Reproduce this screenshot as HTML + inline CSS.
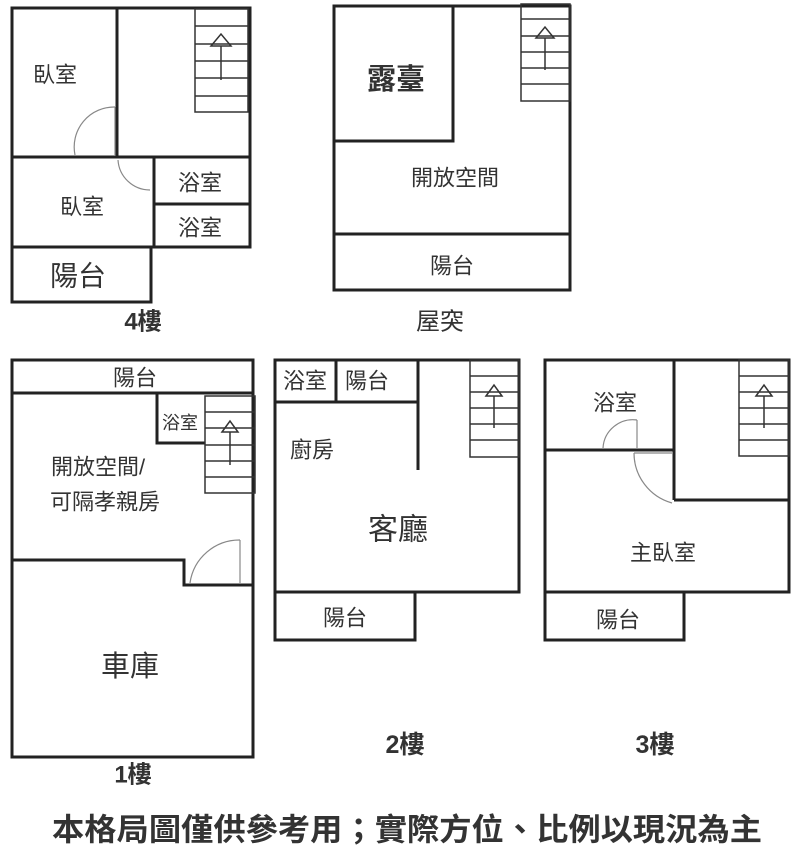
<!DOCTYPE html>
<html><head><meta charset="utf-8"><style>
html,body{margin:0;padding:0;background:#fff;}
svg{display:block}
text{font-family:"Liberation Sans","Noto Sans CJK TC",sans-serif;fill:#333;text-anchor:middle;dominant-baseline:central}
</style></head><body>
<svg width="800" height="864" viewBox="0 0 800 864">
<g fill="none" stroke="#222" stroke-width="3">
<rect x="12" y="8" width="238" height="239"/>
<line x1="117" y1="8" x2="117" y2="157"/>
<line x1="12" y1="157" x2="250" y2="157"/>
<line x1="154" y1="157" x2="154" y2="247"/>
<line x1="154" y1="204" x2="250" y2="204"/>
<rect x="12" y="247" width="139" height="55"/>
<rect x="334" y="6" width="236" height="284"/>
<rect x="334" y="6" width="119" height="135"/>
<line x1="334" y1="234" x2="570" y2="234"/>
<rect x="12" y="360" width="241" height="397"/>
<line x1="12" y1="393" x2="253" y2="393"/>
<polyline points="157,393 157,443 205,443"/>
<polyline points="12,560 184,560 184,585 253,585"/>
<rect x="275" y="360" width="244" height="232"/>
<line x1="275" y1="402" x2="418" y2="402"/>
<line x1="336" y1="360" x2="336" y2="402"/>
<line x1="418" y1="360" x2="418" y2="470"/>
<rect x="275" y="592" width="140" height="48"/>
<rect x="545" y="360" width="244" height="232"/>
<polyline points="545,450 674,450"/>
<line x1="674" y1="360" x2="674" y2="500"/>
<line x1="674" y1="500" x2="789" y2="500"/>
<rect x="545" y="592" width="139" height="48"/>
</g>
<g fill="none" stroke="#333" stroke-width="1.5">
<rect x="195" y="9" width="53" height="103"/>
<path d="M195 26H248M195 44H248M195 61H248M195 78H248M195 96H248"/>
<path d="M221 80V46M211 46L221 34L231 46Z"/>
<rect x="521" y="4" width="49" height="97"/>
<path d="M521 19H570M521 36H570M521 52H570M521 68H570M521 84H570"/>
<path d="M545 70V38M536 38L545 27L554 38Z"/>
<rect x="205" y="396" width="50" height="97"/>
<path d="M205 412H255M205 428H255M205 445H255M205 461H255M205 477H255"/>
<path d="M230 465V432M222 432L230 421L238 432Z"/>
<rect x="470" y="360" width="49" height="97"/>
<path d="M470 376H519M470 392H519M470 408H519M470 424H519M470 440H519"/>
<path d="M494 428V396M486 396L494 385L502 396Z"/>
<rect x="739" y="360" width="50" height="96"/>
<path d="M739 376H789M739 392H789M739 408H789M739 424H789M739 440H789"/>
<path d="M764 428V396M756 396L764 385L772 396Z"/>
</g>
<g fill="none" stroke="#888" stroke-width="1.2">
<path d="M75 155A40 40 0 0 1 115 107"/><line x1="115" y1="107" x2="115" y2="155"/>
<path d="M118 160A32 32 0 0 0 150 190"/>
<path d="M190 583A50 50 0 0 1 240 540"/><line x1="240" y1="540" x2="240" y2="583"/>
<path d="M603 448A30 30 0 0 1 637 420"/><line x1="637" y1="420" x2="637" y2="448"/>
<path d="M634 453A52 52 0 0 0 672 503"/><line x1="634" y1="453" x2="672" y2="453"/>
</g>
<g font-size="22">
<text x="55" y="75">臥室</text>
<text x="82" y="207">臥室</text>
<text x="200" y="183">浴室</text>
<text x="200" y="228">浴室</text>
<text x="78" y="276" font-size="28">陽台</text>
<text x="143" y="322" font-weight="bold" font-size="24">4樓</text>
<text x="396" y="80" font-size="29" font-weight="bold">露臺</text>
<text x="455" y="178">開放空間</text>
<text x="452" y="266">陽台</text>
<text x="440" y="322" font-size="24">屋突</text>
<text x="135" y="378">陽台</text>
<text x="180" y="423" font-size="18">浴室</text>
<text x="98" y="467">開放空間/</text>
<text x="105" y="502">可隔孝親房</text>
<text x="130" y="667" font-size="29">車庫</text>
<text x="133" y="775" font-weight="bold" font-size="24">1樓</text>
<text x="305" y="381">浴室</text>
<text x="367" y="381">陽台</text>
<text x="312" y="450">廚房</text>
<text x="398" y="530" font-size="30">客廳</text>
<text x="345" y="618">陽台</text>
<text x="405" y="745" font-weight="bold" font-size="25">2樓</text>
<text x="615" y="403">浴室</text>
<text x="663" y="553">主臥室</text>
<text x="618" y="620">陽台</text>
<text x="655" y="745" font-weight="bold" font-size="25">3樓</text>
<text x="407" y="830" font-size="31" font-weight="bold" textLength="710" lengthAdjust="spacingAndGlyphs">本格局圖僅供參考用；實際方位、比例以現況為主</text>
</g>
</svg>
</body></html>
